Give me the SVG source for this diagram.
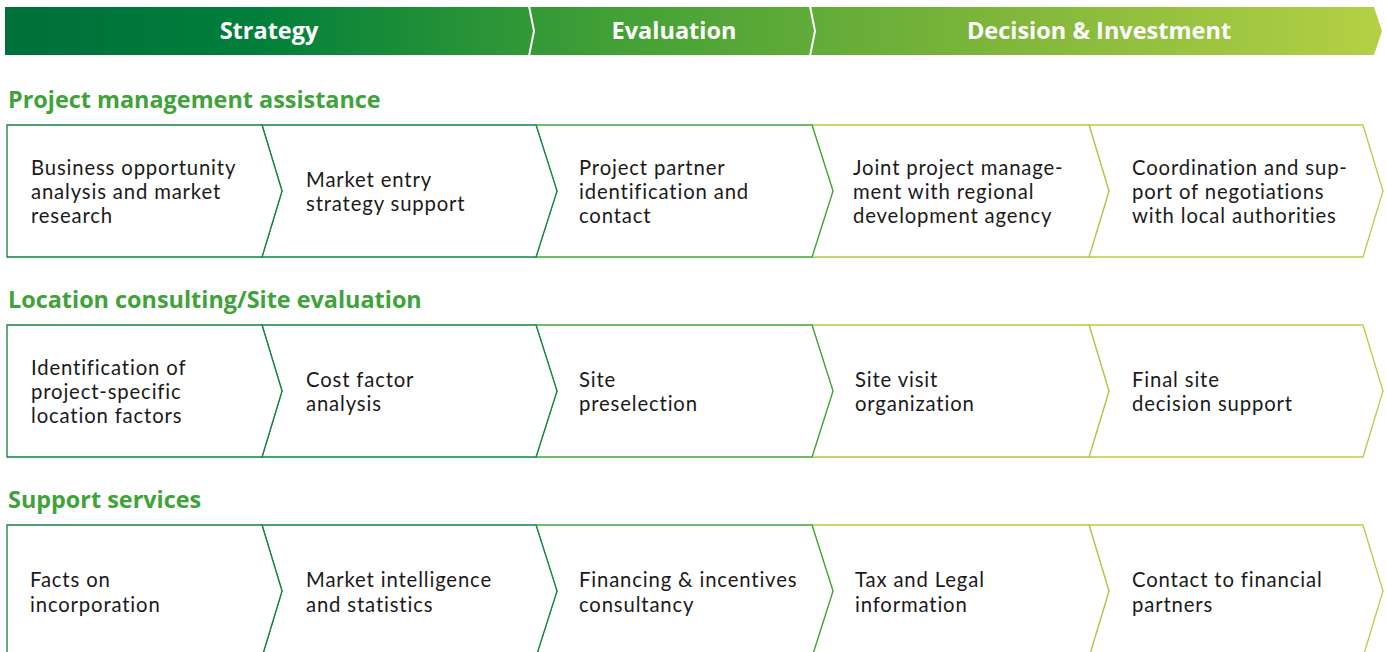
<svg xmlns="http://www.w3.org/2000/svg" width="1387" height="652" viewBox="0 0 1387 652">
<defs>
<linearGradient id="hdr" gradientUnits="userSpaceOnUse" x1="5" y1="0" x2="1382" y2="0">
<stop offset="0" stop-color="#006f3a"/>
<stop offset="0.18" stop-color="#007f3a"/>
<stop offset="0.45" stop-color="#44a136"/>
<stop offset="0.7" stop-color="#7ab43a"/>
<stop offset="1" stop-color="#b5d045"/>
</linearGradient>
</defs>
<style>
.hdrtxt{font-family:"Open Sans","Noto Sans",sans-serif;font-weight:bold;font-size:23.5px;fill:#ffffff;text-anchor:middle}
.sec{font-family:"Open Sans","Noto Sans",sans-serif;font-weight:bold;font-size:23.4px;fill:#40a23a}
.cell{fill:#ffffff;stroke-width:1.3}
.c1{stroke:#107f40}
.c2{stroke:#0f8540}
.c3{stroke:#3ca43a}
.c4{stroke:#a8cc48}
.c5{stroke:#b3d046}
.lbl{font-family:Lato,"Open Sans",sans-serif;font-size:20.3px;letter-spacing:0.85px;fill:#1a1a1a}
.sep{fill:none;stroke:#ffffff;stroke-width:2}
</style>
<g id="header">
<path d="M5,7 L1374,7 L1382,31 L1374,55 L5,55 Z" fill="url(#hdr)"/>
<path class="sep" d="M529,6 L534,31 L529,56"/>
<path class="sep" d="M810,6 L815,31 L810,56"/>
<text class="hdrtxt" x="269" y="39">Strategy</text>
<text class="hdrtxt" x="674" y="39">Evaluation</text>
<text class="hdrtxt" x="1099" y="39">Decision &amp; Investment</text>
</g>
<g id="titles">
<text class="sec" x="8" y="108">Project management assistance</text>
<text class="sec" x="8" y="308">Location consulting/Site evaluation</text>
<text class="sec" x="8" y="508">Support services</text>
</g>
<g id="row1">
<g id="r1c5"><path class="cell c5" d="M1089,125 L1363,125 L1383,191 L1363,257 L1089,257 L1109,191 Z"/>
<text class="lbl" x="1132" y="175">Coordination and sup-<tspan x="1132" dy="24">port of negotiations</tspan><tspan x="1132" dy="24">with local authorities</tspan></text></g>
<g id="r1c4"><path class="cell c4" d="M812,125 L1089,125 L1109,191 L1089,257 L812,257 L833,191 Z"/>
<text class="lbl" x="853" y="175">Joint project manage-<tspan x="853" dy="24">ment with regional</tspan><tspan x="853" dy="24">development agency</tspan></text></g>
<g id="r1c3"><path class="cell c3" d="M536,125 L812,125 L833,191 L812,257 L536,257 L557,191 Z"/>
<text class="lbl" x="579" y="175">Project partner<tspan x="579" dy="24">identification and</tspan><tspan x="579" dy="24">contact</tspan></text></g>
<g id="r1c2"><path class="cell c2" d="M262,125 L536,125 L557,191 L536,257 L262,257 L282,191 Z"/>
<text class="lbl" x="306" y="187">Market entry<tspan x="306" dy="24">strategy support</tspan></text></g>
<g id="r1c1"><path class="cell c1" d="M7,125 L262,125 L282,191 L262,257 L7,257 Z"/>
<text class="lbl" x="31" y="175">Business opportunity<tspan x="31" dy="24">analysis and market</tspan><tspan x="31" dy="24">research</tspan></text></g>
</g>
<g id="row2">
<g id="r2c5"><path class="cell c5" d="M1089,325 L1363,325 L1383,391 L1363,457 L1089,457 L1109,391 Z"/>
<text class="lbl" x="1132" y="387">Final site<tspan x="1132" dy="24">decision support</tspan></text></g>
<g id="r2c4"><path class="cell c4" d="M812,325 L1089,325 L1109,391 L1089,457 L812,457 L833,391 Z"/>
<text class="lbl" x="855" y="387">Site visit<tspan x="855" dy="24">organization</tspan></text></g>
<g id="r2c3"><path class="cell c3" d="M536,325 L812,325 L833,391 L812,457 L536,457 L557,391 Z"/>
<text class="lbl" x="579" y="387">Site<tspan x="579" dy="24">preselection</tspan></text></g>
<g id="r2c2"><path class="cell c2" d="M262,325 L536,325 L557,391 L536,457 L262,457 L282,391 Z"/>
<text class="lbl" x="306" y="387">Cost factor<tspan x="306" dy="24">analysis</tspan></text></g>
<g id="r2c1"><path class="cell c1" d="M7,325 L262,325 L282,391 L262,457 L7,457 Z"/>
<text class="lbl" x="31" y="375">Identification of<tspan x="31" dy="24">project-specific</tspan><tspan x="31" dy="24">location factors</tspan></text></g>
</g>
<g id="row3">
<g id="r3c5"><path class="cell c5" d="M1089,525 L1363,525 L1383,591 L1363,657 L1089,657 L1109,591 Z"/>
<text class="lbl" x="1132" y="587">Contact to financial<tspan x="1132" dy="25">partners</tspan></text></g>
<g id="r3c4"><path class="cell c4" d="M812,525 L1089,525 L1109,591 L1089,657 L812,657 L833,591 Z"/>
<text class="lbl" x="855" y="587">Tax and Legal<tspan x="855" dy="25">information</tspan></text></g>
<g id="r3c3"><path class="cell c3" d="M536,525 L812,525 L833,591 L812,657 L536,657 L557,591 Z"/>
<text class="lbl" x="579" y="587">Financing &amp; incentives<tspan x="579" dy="25">consultancy</tspan></text></g>
<g id="r3c2"><path class="cell c2" d="M262,525 L536,525 L557,591 L536,657 L262,657 L282,591 Z"/>
<text class="lbl" x="306" y="587">Market intelligence<tspan x="306" dy="25">and statistics</tspan></text></g>
<g id="r3c1"><path class="cell c1" d="M7,525 L262,525 L282,591 L262,657 L7,657 Z"/>
<text class="lbl" x="30" y="587">Facts on<tspan x="30" dy="25">incorporation</tspan></text></g>
</g>
</svg>
